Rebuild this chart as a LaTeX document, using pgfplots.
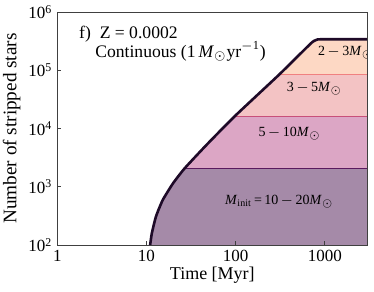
\documentclass[border=0pt]{standalone}
\usepackage{fontspec}
\setmainfont{Liberation Serif}
\usepackage{pgfplots}
\pgfplotsset{compat=1.18}
\definecolor{cA}{HTML}{FDD8C4}
\definecolor{cB}{HTML}{F3C3C4}
\definecolor{cC}{HTML}{DCA6C5}
\definecolor{cD}{HTML}{A58AA8}
\definecolor{lB}{HTML}{F08080}
\definecolor{lC}{HTML}{C8507A}
\definecolor{lD}{HTML}{5A1A5E}
\definecolor{lT}{HTML}{1E0A28}
\begin{document}
\begin{tikzpicture}
\useasboundingbox (-28.65pt,-23pt) rectangle (158.35pt,122.5pt);
\begin{axis}[
  at={(0,0)}, anchor=south west,
  scale only axis, width=155pt, height=116.5pt,
  xmode=log, ymode=log,
  xmin=1, xmax=3000, ymin=1e2, ymax=1e6,
  xtick={1,10,100,1000}, xticklabels={1,10,100,1000},
  ytick={1e2,1e3,1e4,1e5,1e6},
  yticklabels={10\textsuperscript{2},10\textsuperscript{3},10\textsuperscript{4},10\textsuperscript{5},10\textsuperscript{6}},
  xminorticks=false, yminorticks=false,
  tick align=inside, xtick pos=bottom, ytick pos=left,
  major tick length=2pt,
  axis line style={black!75, line width=0.4pt},
  every tick/.style={black!75, line width=0.4pt},
  tick label style={font=\fontsize{8.5}{10}\selectfont},
  xticklabel style={yshift=1pt},
  yticklabel style={xshift=1pt},
  xlabel={Time [Myr]}, ylabel={Number of stripped stars},
  xlabel style={font=\fontsize{9}{10}\selectfont, yshift=4pt},
  ylabel style={font=\fontsize{9.6}{11}\selectfont, yshift=-3pt},
  axis on top,
]
% 2-3 Msun (full total)
\addplot[fill=cA, draw=none] coordinates {
 (10.5,50) (11,100) (11.5,160) (12.8,310) (15.2,590) (19.9,1150) (26.8,2070)
 (47,5200) (98,16300) (310,85000) (700,290000) (800,330000) (900,340000) (3000,340000)
 (3000,10) (10.5,10)} -- cycle;
% 3-5
\addplot[fill=cB, draw=none] coordinates {
 (10.5,50) (11,100) (11.5,160) (12.8,310) (15.2,590) (19.9,1150) (26.8,2070)
 (47,5200) (98,16300) (310,85000) (3000,85000)
 (3000,10) (10.5,10)} -- cycle;
% 5-10
\addplot[fill=cC, draw=none] coordinates {
 (10.5,50) (11,100) (11.5,160) (12.8,310) (15.2,590) (19.9,1150) (26.8,2070)
 (47,5200) (98,16300) (3000,16300)
 (3000,10) (10.5,10)} -- cycle;
% 10-20
\addplot[fill=cD, draw=none] coordinates {
 (10.5,50) (11,100) (11.5,160) (12.8,310) (15.2,590) (19.9,1150) (26.8,2070) (3000,2070)
 (3000,10) (10.5,10)} -- cycle;
% boundaries
\addplot[lB, line width=0.5pt] coordinates {(310,85000) (3000,85000)};
\addplot[lC, line width=0.6pt] coordinates {(98,16300) (3000,16300)};
\addplot[lD, line width=0.7pt] coordinates {(26.8,2070) (3000,2070)};
% total
\addplot[lT, line width=1.3pt, smooth, tension=0.3] coordinates {
 (10.5,50) (11,100) (11.5,160) (12.8,310) (15.2,590) (19.9,1150) (26.8,2070)
 (47,5200) (98,16300) (310,85000) (700,290000) (800,330000) (900,340000) (3000,340000)};
\node[anchor=west, font=\fontsize{8.8}{10}\selectfont] at (rel axis cs:0.048,0.905) {f)\enspace Z = 0.0002};
\node[anchor=west, font=\fontsize{8.8}{10}\selectfont] at (rel axis cs:0.1,0.83) {Continuous (1\,\textit{M}$_\odot$yr\textsuperscript{$-$1})};
\node[font=\fontsize{7}{8}\selectfont] at (axis cs:1720,200000) {2\,$-$\,3\textit{M}$_\odot$};
\node[font=\fontsize{7}{8}\selectfont] at (axis cs:770,48000) {3\,$-$\,5\textit{M}$_\odot$};
\node[font=\fontsize{7}{8}\selectfont] at (axis cs:405,8300) {5\,$-$\,10\textit{M}$_\odot$};
\node[font=\fontsize{7}{8}\selectfont] at (axis cs:310,550) {\textit{M}$_{\mathrm{init}}$\,=\,10\,$-$\,20\textit{M}$_\odot$};
\end{axis}
\end{tikzpicture}
\end{document}
